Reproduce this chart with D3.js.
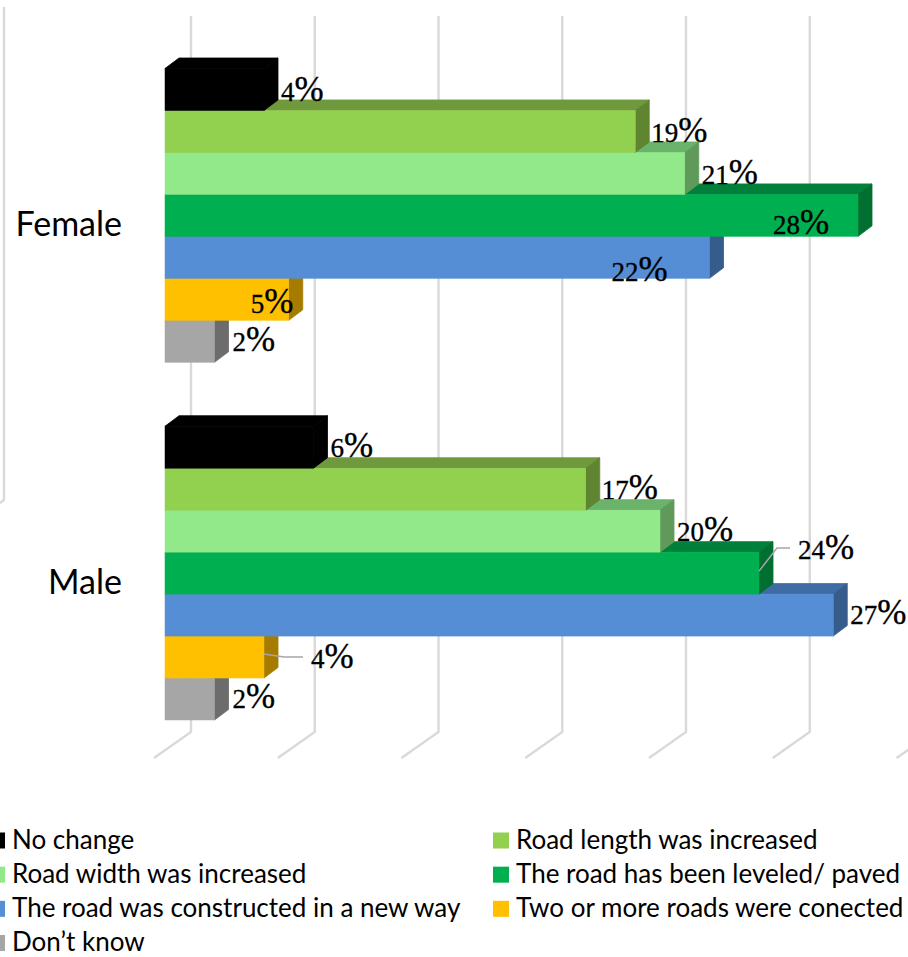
<!DOCTYPE html>
<html lang="en">
<head>
  <meta charset="utf-8">
  <script src="https://d3js.org/d3.v7.min.js"></script>
  <style>
    html, body { margin: 0; padding: 0; background: #fff; overflow: hidden; }
  </style>
  <title>Road changes by gender</title>
</head>
<body>
  <div id="my_dataviz"></div>
<script>
  // data
  const categories = ["Female", "Male"];
  const series = ["No change", "Road length was increased", "Road width was increased",
    "The road has been leveled/ paved", "The road was constructed in a new way",
    "Two or more roads were conected", "Don\u2019t know"];
  const femaleValues = [4, 19, 21, 28, 22, 5, 2];
  const maleValues = [6, 17, 20, 24, 27, 4, 2];
  const gridTicks = [0, 5, 10, 15, 20, 25, 30];

  // front, top and side colours of each series
  const frontColors = ["#000000", "#92D050", "#92E98A", "#00B050", "#558ED5", "#FFC000", "#A6A6A6"];
  const topColors = ["#000000", "#70993D", "#6BB26A", "#00803A", "#3F6CA3", "#BF9000", "#7D7D7D"];
  const sideColors = ["#000000", "#5F8530", "#5F9A5A", "#006F2F", "#365C8C", "#A67C00", "#6C6C6C"];

  // label placement relative to the end of each bar: [dx, dy from bar bottom]
  const femaleLabelOffsets = [[17, -9], [16, -10], [17, -10], [-85, -2], [-98, 3], [-38, -7], [18, -11]];
  const maleLabelOffsets = [[17, -11], [16, -11], [17, -11], [39, -35], [17, -12], [47, -10], [18, -12]];

  const width = 908, height = 957;
  const depthX = 14, depthY = 10.5;

  const svg = d3.select("#my_dataviz")
    .append("svg")
    .attr("width", width)
    .attr("height", height)
    .style("display", "block");

  // scales
  const x = d3.scaleLinear().domain([0, 28]).range([165, 858]);
  const yGroup = d3.scaleBand().domain(categories).range([68.5, 720]).paddingInner(0.1788);
  const yBar = d3.scaleBand().domain(series).range([0, yGroup.bandwidth()]);

  // grid lines: back wall then floor
  const gridTop = 16, gridBottom = 732, floorBottom = 758;
  svg.append("g").selectAll("path")
    .data(gridTicks)
    .join("path")
    .attr("d", d => `M${x(d) + 26},${gridTop}V${gridBottom}L${x(d) - 11},${floorBottom}`)
    .attr("fill", "none")
    .attr("stroke", "#D9D9D9")
    .attr("stroke-width", 2.4);

  // left over bit of the wall on the far left
  svg.append("path")
    .attr("d", "M4,7V500L0,503")
    .attr("fill", "none")
    .attr("stroke", "#D9D9D9")
    .attr("stroke-width", 2.4);

  // flatten to one list per group, painted bottom to top so upper bars overlap
  const groups = [
    { cat: "Female", values: femaleValues, offsets: femaleLabelOffsets },
    { cat: "Male", values: maleValues, offsets: maleLabelOffsets }
  ];
  const bars = groups.flatMap(g => series.map((s, i) => ({
    cat: g.cat, s, i, value: g.values[i], offset: g.offsets[i]
  })));
  const paintOrder = bars.slice().sort((a, b) => d3.descending(a.i, b.i));

  const bx0 = x(0);
  const by = d => yGroup(d.cat) + yBar(d.s);
  const bh = yBar.bandwidth();

  const bar = svg.append("g").selectAll("g")
    .data(paintOrder)
    .join("g");

  bar.append("path")
    .attr("d", d => {
      const x1 = x(d.value), y0 = by(d);
      return `M${bx0},${y0}L${bx0 + depthX},${y0 - depthY}H${x1 + depthX}L${x1},${y0}Z`;
    })
    .attr("fill", d => topColors[d.i])
    .attr("stroke", d => topColors[d.i])
    .attr("stroke-width", 0.8);

  bar.append("path")
    .attr("d", d => {
      const x1 = x(d.value), y0 = by(d);
      return `M${x1},${y0}L${x1 + depthX},${y0 - depthY}V${y0 + bh - depthY}L${x1},${y0 + bh}Z`;
    })
    .attr("fill", d => sideColors[d.i])
    .attr("stroke", d => sideColors[d.i])
    .attr("stroke-width", 0.8);

  bar.append("rect")
    .attr("x", bx0)
    .attr("y", by)
    .attr("width", d => x(d.value) - bx0)
    .attr("height", bh)
    .attr("fill", d => frontColors[d.i])
    .attr("stroke", d => frontColors[d.i])
    .attr("stroke-width", 0.5);

  // leader lines for the two labels pulled away from their bars
  const leaders = bars.filter(d => d.offset[0] > 30);
  svg.append("g").selectAll("path")
    .data(leaders)
    .join("path")
    .attr("d", d => {
      const x1 = x(d.value), lx = x1 + d.offset[0] - 8, ly = by(d) + bh + d.offset[1] - 11;
      return d.i === 3
        ? `M${x1},${by(d) + 19}L${x1 + 18},${ly}H${lx}`
        : `M${x1},${by(d) + 18}L${x1 + 20},${ly}H${lx}`;
    })
    .attr("fill", "none")
    .attr("stroke", "#A6A6A6")
    .attr("stroke-width", 1.5);

  // data labels
  const labels = svg.append("g").selectAll("text")
    .data(bars)
    .join("text")
    .attr("x", d => x(d.value) + d.offset[0])
    .attr("y", d => by(d) + bh + d.offset[1])
    .attr("font-family", "'Liberation Serif', serif")
    .attr("fill", "#000")
    .attr("stroke", "#000")
    .attr("stroke-width", 0.35);
  labels.append("tspan").attr("font-size", 27).text(d => d.value);
  labels.append("tspan").attr("font-size", 35).text("%");

  // category labels
  svg.append("g").selectAll("text")
    .data(categories)
    .join("text")
    .attr("x", 122)
    .attr("y", d => yGroup(d) + yGroup.bandwidth() / 2 + 21)
    .attr("text-anchor", "end")
    .attr("font-family", "Lato, sans-serif")
    .attr("font-size", 34)
    .attr("fill", "#000")
    .text(d => d);

  // legend, two columns
  const legendCol = d3.scaleOrdinal().domain([0, 1]).range([12, 516]);
  const legendRow = d3.scalePoint().domain([0, 1, 2, 3]).range([840.5, 943]);
  const legend = svg.append("g").selectAll("g")
    .data(series)
    .join("g")
    .attr("transform", (d, i) => `translate(${legendCol(i % 2)},${legendRow(Math.floor(i / 2))})`);
  legend.append("rect")
    .attr("x", -23)
    .attr("y", -8)
    .attr("width", 16)
    .attr("height", 16)
    .attr("fill", (d, i) => frontColors[i]);
  legend.append("text")
    .attr("y", 8)
    .attr("font-family", "Lato, sans-serif")
    .attr("font-size", 26)
    .attr("fill", "#000")
    .text(d => d);
</script>
</body>
</html>
